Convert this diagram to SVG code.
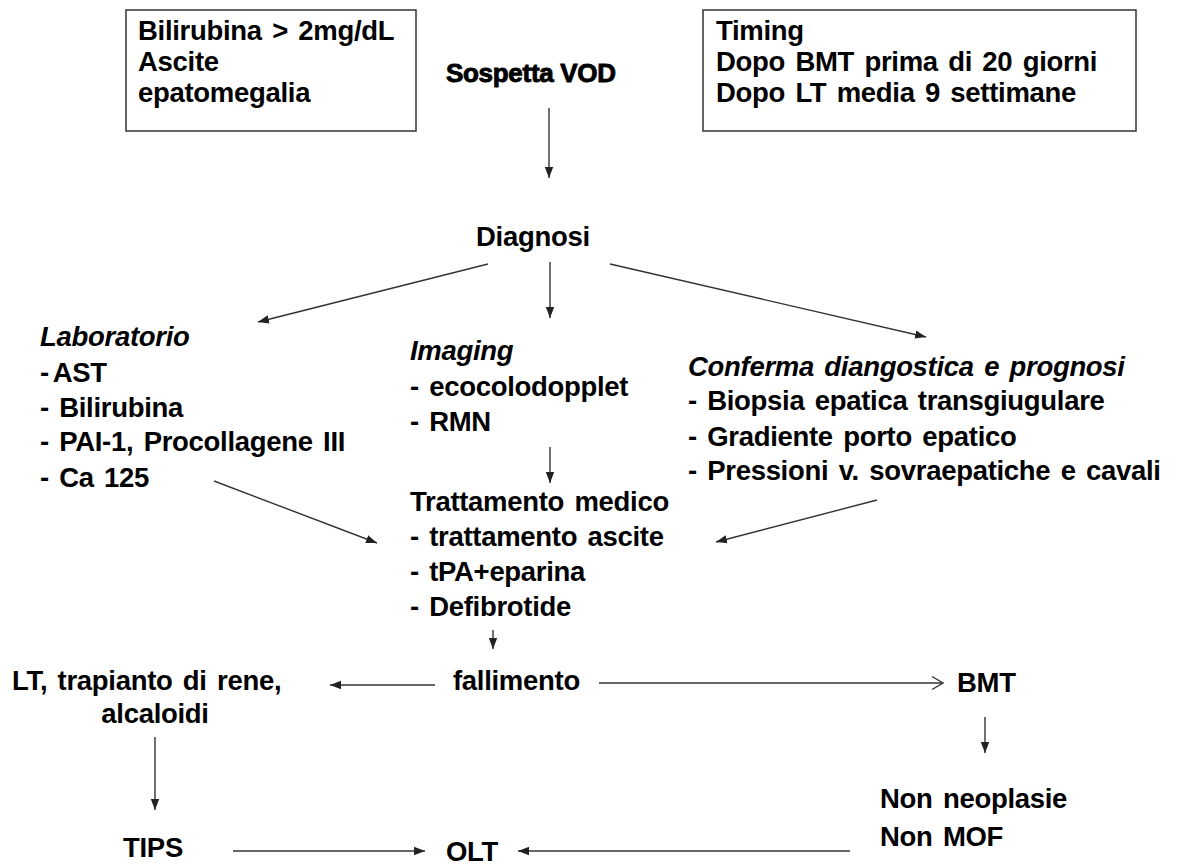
<svg xmlns="http://www.w3.org/2000/svg" width="1180" height="866" viewBox="0 0 1180 866">
<defs>
<style>
text{font-family:"Liberation Sans",Arial,sans-serif;font-size:27.5px;font-weight:bold;fill:#000;word-spacing:3px;letter-spacing:-0.3px}
.it{font-style:italic}
.title{font-size:26px;stroke:#000;stroke-width:0.9;letter-spacing:-0.3px;word-spacing:0}
.box{fill:#fff;stroke:#333;stroke-width:1.5}
.ln{stroke:#333;stroke-width:1.4;fill:none}
</style>
<marker id="ah" markerUnits="userSpaceOnUse" markerWidth="12" markerHeight="10" refX="11" refY="5" orient="auto"><path d="M0,0.8 L11,5 L0,9.2 Z" fill="#222"/></marker>
<marker id="ao" markerUnits="userSpaceOnUse" markerWidth="14" markerHeight="16" refX="12" refY="8" orient="auto"><path d="M1,1.5 L12,8 L1,14.5" fill="none" stroke="#333" stroke-width="1.4"/></marker>
</defs>
<rect width="1180" height="866" fill="#fff"/>
<g id="criteri"><rect class="box" x="126" y="10" width="290" height="121"/>
<text x="138" y="40">Bilirubina &gt; 2mg/dL</text><text x="138" y="71">Ascite</text><text x="138" y="102">epatomegalia</text></g>
<g id="sospetta"><text class="title" x="446" y="82">Sospetta VOD</text></g>
<g id="timing"><rect class="box" x="703" y="10" width="433" height="121"/>
<text x="716" y="40">Timing</text><text x="716" y="71">Dopo BMT prima di 20 giorni</text><text x="716" y="102">Dopo LT media 9 settimane</text></g>
<g id="diagnosi"><text x="476" y="246">Diagnosi</text></g>
<g id="laboratorio"><text class="it" x="40" y="346">Laboratorio</text><text x="40" y="382" style="word-spacing:-2.5px">- AST</text><text x="40" y="417">- Bilirubina</text><text x="40" y="451">- PAI-1, Procollagene III</text><text x="40" y="487">- Ca 125</text></g>
<g id="imaging"><text class="it" x="410" y="360">Imaging</text><text x="410" y="396">- ecocolodopplet</text><text x="410" y="431">- RMN</text></g>
<g id="conferma"><text class="it" x="688" y="376">Conferma diangostica e prognosi</text><text x="688" y="410">- Biopsia epatica transgiugulare</text><text x="688" y="446">- Gradiente porto epatico</text><text x="688" y="480">- Pressioni v. sovraepatiche e cavali</text></g>
<g id="trattamento"><text x="410" y="511">Trattamento medico</text><text x="410" y="546">- trattamento ascite</text><text x="410" y="581">- tPA+eparina</text><text x="410" y="616">- Defibrotide</text></g>
<g id="fallimento"><text x="453" y="690">fallimento</text></g>
<g id="lt"><text x="12" y="690">LT, trapianto di rene,</text><text x="155" y="723" text-anchor="middle">alcaloidi</text></g>
<g id="bmt"><text x="957" y="692">BMT</text></g>
<g id="nonneo"><text x="880" y="808">Non neoplasie</text><text x="880" y="846">Non MOF</text></g>
<g id="tips"><text x="123" y="857">TIPS</text></g>
<g id="olt"><text x="446" y="861">OLT</text></g>
<g id="connectors">
<line class="ln" x1="549" y1="108" x2="549" y2="178" marker-end="url(#ah)"/>
<line class="ln" x1="488" y1="264" x2="258" y2="322" marker-end="url(#ah)"/>
<line class="ln" x1="550" y1="262" x2="550" y2="318" marker-end="url(#ah)"/>
<line class="ln" x1="610" y1="264" x2="926" y2="337" marker-end="url(#ah)"/>
<line class="ln" x1="550" y1="447" x2="550" y2="483" marker-end="url(#ah)"/>
<line class="ln" x1="214" y1="481" x2="377" y2="543" marker-end="url(#ah)"/>
<line class="ln" x1="877" y1="500" x2="716" y2="542" marker-end="url(#ah)"/>
<line class="ln" x1="493" y1="630" x2="493" y2="649" marker-end="url(#ah)"/>
<line class="ln" x1="435" y1="685" x2="330" y2="685" marker-end="url(#ah)"/>
<line class="ln" x1="599" y1="683" x2="943" y2="683" marker-end="url(#ao)"/>
<line class="ln" x1="155" y1="737" x2="155" y2="810" marker-end="url(#ah)"/>
<line class="ln" x1="985" y1="717" x2="985" y2="753" marker-end="url(#ah)"/>
<line class="ln" x1="233" y1="851" x2="425" y2="851" marker-end="url(#ah)"/>
<line class="ln" x1="850" y1="851" x2="518" y2="851" marker-end="url(#ah)"/>
</g>
</svg>
